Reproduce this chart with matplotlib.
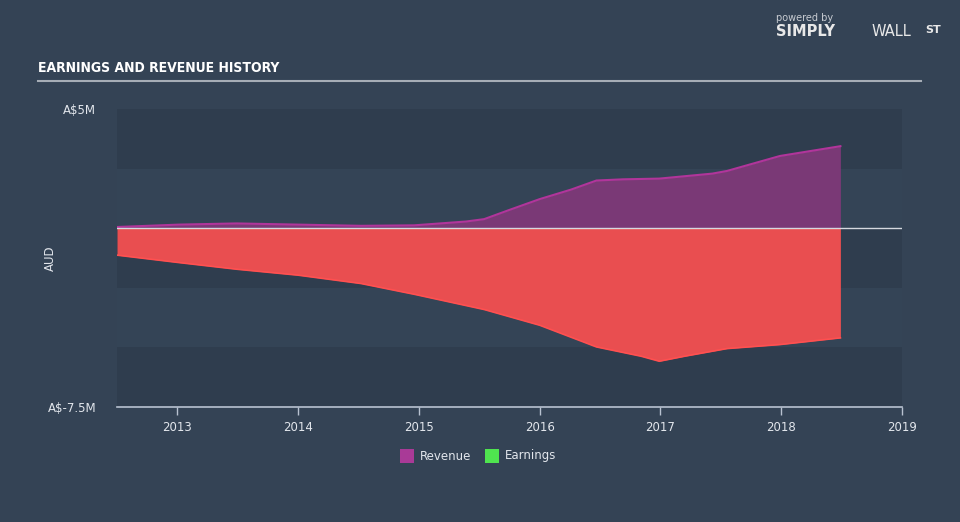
import numpy as np
import matplotlib.pyplot as plt
from matplotlib.patches import Rectangle

# ── data (A$ millions) ──
rev_t = [2012.5, 2013.01, 2013.49, 2014.0, 2014.52, 2014.96, 2015.39, 2015.54,
         2015.74, 2016.0, 2016.26, 2016.47, 2016.69, 2016.99, 2017.43, 2017.55,
         2017.99, 2018.49]
rev_v = [0.05, 0.15, 0.2, 0.15, 0.1, 0.12, 0.28, 0.38,
         0.75, 1.22, 1.62, 2.0, 2.05, 2.08, 2.29, 2.4,
         3.03, 3.44]

earn_t = [2012.5, 2013.01, 2013.49, 2014.0, 2014.52, 2014.96, 2015.54, 2016.0,
          2016.47, 2016.84, 2016.99, 2017.2, 2017.55, 2017.99, 2018.49]
earn_v = [-1.13, -1.44, -1.72, -1.97, -2.32, -2.77, -3.41, -4.07,
          -4.98, -5.37, -5.58, -5.37, -5.05, -4.88, -4.6]

years = [2013, 2014, 2015, 2016, 2017, 2018, 2019]
y_ticks = [5, -7.5]
y_labels = ["A$5M", "A$-7.5M"]

BG = "#344355"
BAND_DARK = "#2f3d4e"
BAND_LIGHT = "#344456"
TXT = "#e2e6ec"

fig = plt.figure(figsize=(9.6, 5.22), dpi=100, facecolor=BG)
ax = fig.add_axes([117 / 960, 1 - 407 / 522, 785 / 960, 298 / 522])
ax.set_facecolor(BG)

# ── alternating horizontal bands ──
edges = np.linspace(-7.5, 5, 6)
for i in range(5):
    col = BAND_DARK if i % 2 == 0 else BAND_LIGHT
    ax.axhspan(edges[i], edges[i + 1], color=col, lw=0, zorder=0)

ax.fill_between(rev_t, 0, rev_v, color="#7a3976", lw=0, zorder=2)
ax.plot(rev_t, rev_v, color="#b1359b", lw=1.5, zorder=3)
ax.fill_between(earn_t, 0, earn_v, color="#e94e50", lw=0, zorder=2)
ax.plot(earn_t, earn_v, color="#ff5050", lw=1.2, zorder=3)
ax.axhline(0, color="#d5d9df", lw=1, zorder=4)

ax.set_xlim(2012.5, 2019)
ax.set_ylim(-7.5, 5)
ax.set_xticks(years)
ax.set_xticklabels([str(y) for y in years])
ax.set_yticks(y_ticks)
ax.set_yticklabels(y_labels)
ax.tick_params(axis="x", colors="#b8c2d0", length=6, width=1, labelcolor=TXT,
               labelsize=8.5, pad=4)
ax.tick_params(axis="y", length=0, labelcolor=TXT, labelsize=8.5, pad=15)
for s in ["top", "right", "left"]:
    ax.spines[s].set_visible(False)
ax.spines["bottom"].set_color("#b8c2d0")
ax.spines["bottom"].set_linewidth(1.2)
ax.set_ylabel("AUD", color=TXT, fontsize=8.5)
ax.yaxis.set_label_coords(-0.076, 0.5)

# ── title and rule ──
fig.text(38 / 960, 1 - 68 / 522, "EARNINGS AND REVENUE HISTORY", color="white",
         fontsize=10, fontweight="bold", fontstretch="condensed",
         va="center", ha="left")
fig.add_artist(plt.Line2D([38 / 960, 921 / 960], [1 - 81 / 522, 1 - 81 / 522],
                          color="#a6adb6", lw=1.5))

# ── logo text ──
fig.text(776 / 960, 1 - 18 / 522, "powered by", color="#c8ccd2", fontsize=7,
         ha="left", va="center")
fig.text(776 / 960, 1 - 32 / 522, "SIMPLY", color="#e8e8e8", fontsize=10.5,
         fontweight="bold", ha="left", va="center")
fig.text(872 / 960, 1 - 32 / 522, "WALL", color="#e8e8e8", fontsize=10.5,
         ha="left", va="center")
fig.text(925 / 960, 1 - 30 / 522, "ST", color="#e8e8e8", fontsize=8,
         fontweight="bold", ha="left", va="center")

# ── legend ──
for x0, col, label in [(400, "#a93a97", "Revenue"), (485, "#4fe44f", "Earnings")]:
    fig.add_artist(Rectangle((x0 / 960, 1 - 463 / 522), 14 / 960, 14 / 522,
                             transform=fig.transFigure, color=col, lw=0))
    fig.text((x0 + 20) / 960, 1 - 456 / 522, label, color=TXT, fontsize=8.5,
             ha="left", va="center")

fig.savefig("out.png", dpi=100, facecolor=BG)
